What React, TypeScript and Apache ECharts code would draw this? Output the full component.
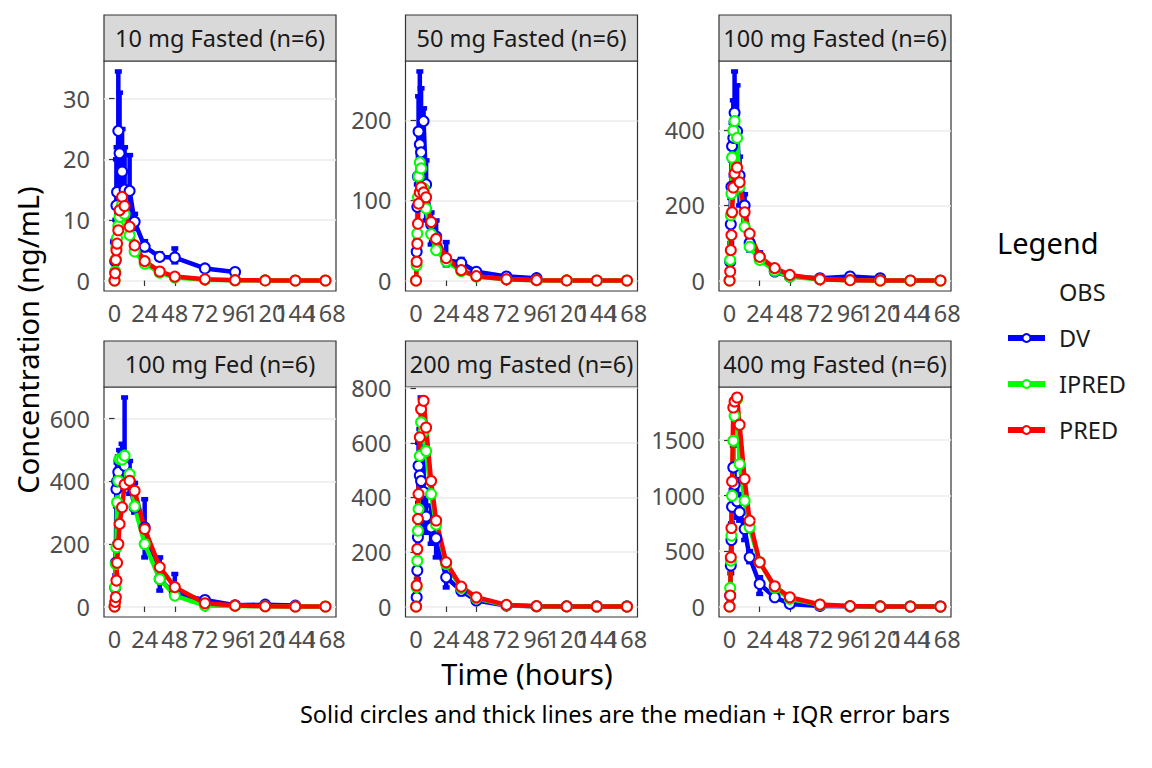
import React, { useEffect, useRef } from 'react'
import * as echarts from 'echarts'

// nominal sampling times (hours)
const TIMES = [0, 0.5, 1, 1.5, 2, 3, 4, 6, 8, 12, 16, 24, 36, 48, 72, 96, 120, 144, 168]
const X_TICKS = [0, 24, 48, 72, 96, 120, 144, 168]

const PANEL_TITLES = [
  '10 mg Fasted (n=6)',
  '50 mg Fasted (n=6)',
  '100 mg Fasted (n=6)',
  '100 mg Fed (n=6)',
  '200 mg Fasted (n=6)',
  '400 mg Fasted (n=6)'
]

const Y_TICKS = [
  [0, 10, 20, 30],
  [0, 100, 200],
  [0, 200, 400],
  [0, 200, 400, 600],
  [0, 200, 400, 600, 800],
  [0, 500, 1000, 1500]
]

// observed concentration: median, 25th and 75th percentiles (null = BLQ / not sampled)
const DV_MEDIAN = [
  [null, 3.2, 6.4, 12.4, 14.6, 24.7, 21, 18, 15, 14.8, 9.7, 5.6, 3.9, 3.8, 2.0, 1.4, null, null, null],
  [null, 36, 92, 130, 186, 170, 160, 199, 120, 70, 55, 26, 22, 11, 5, 3, null, null, null],
  [null, 50, 150, 250, 358, 380, 447, 398, 280, 200, 100, 63, 24, 10.6, 6, 10.6, 6, null, null],
  [null, 60, 140, 375, 400, 430, 468, 470, 450, 400, 317, 253, 88, 40, 21, 4, 6, 3, null],
  [null, 34, 132, 254, 516, 480, 460, 420, 330, 290, 250, 107, 58, 22, 4, 1, 1, 0.5, 0.5],
  [null, 100, 370, 600, 900, 1255, 1100, 950, 850, 700, 444, 204, 84, 24, 6, 2, 1, 0.5, 0.3]
]
const DV_Q1 = [
  [null, 2, 4, 8, 10, 14, 14, 12, 11, 10, 8.5, 5, 3.5, 3, 1.8, 1.2, null, null, null],
  [null, 25, 60, 90, 130, 110, 100, 110, 75, 45, 45, 19, 18, 8, 4, 2, null, null, null],
  [null, 30, 100, 180, 280, 300, 350, 300, 200, 160, 80, 50, 20, 8, 4, 8, 4, null, null],
  [null, 40, 100, 320, 340, 380, 420, 400, 380, 360, 300, 157, 51, 30, 15, 2, 4, 2, null],
  [null, 20, 100, 200, 380, 350, 300, 280, 270, 230, 180, 70, 45, 15, 2, 0.5, 0.5, 0.2, 0.2],
  [null, 60, 300, 450, 700, 1000, 900, 800, 775, 600, 400, 114, 60, 15, 4, 1, 0.5, 0.2, 0.1]
]
const DV_Q3 = [
  [null, 5, 10, 20, 22, 34.5, 31, 25, 22, 20.7, 11, 6.5, 4.5, 5.3, 2.3, 1.6, null, null, null],
  [null, 50, 120, 170, 230, 261, 240, 215, 150, 85, 75, 48, 27, 14, 6, 4, null, null, null],
  [null, 80, 220, 320, 420, 480, 557, 520, 330, 230, 120, 75, 30, 14, 8, 13, 8, null, null],
  [null, 80, 200, 420, 460, 480, 500, 520, 668, 465, 395, 343, 157, 104, 25, 6, 8, 4, null],
  [null, 50, 170, 320, 600, 650, 766, 600, 420, 370, 300, 140, 70, 30, 6, 2, 2, 1, 1],
  [null, 160, 450, 750, 1050, 1450, 1300, 1150, 1015, 780, 500, 264, 110, 35, 8, 3, 2, 1, 0.5]
]

// individual and population predictions (median)
const IPRED = [
  [0, 1.5, 3.5, 5.5, 7, 9, 10.5, 12.5, 11, 7.5, 4.8, 2.8, 1.3, 0.5, 0.15, 0.05, 0.02, 0.01, 0],
  [0, 19, 58.7, 104, 130, 147.5, 140, 115, 90, 58, 38, 24, 12, 5, 1.5, 0.5, 0.15, 0.05, 0.02],
  [0, 55, 174, 231, 328, 400, 425, 380, 250, 143, 90, 55, 26, 10.6, 3, 1, 0.3, 0.1, 0.03],
  [0, 62, 136, 189, 333, 402, 471, 470, 482, 423, 320, 200, 88, 35, 3, 2, 1, 0.3, 0.1],
  [0, 71, 168, 278, 357, 552, 675, 640, 570, 412, 300, 156, 68, 30, 5, 1.5, 0.5, 0.2, 0.05],
  [0, 168, 414, 640, 1000, 1495, 1720, 1870, 1285, 955, 715, 400, 168, 69, 15, 3, 1, 0.3, 0.1]
]
const PRED = [
  [0, 1.2, 3.4, 5, 6.1, 8.3, 11.6, 13.8, 12.3, 8.9, 5.8, 3.2, 1.5, 0.65, 0.2, 0.06, 0.02, 0.01, 0],
  [0, 23.5, 46, 71, 96, 110, 116.5, 110, 104, 73, 52, 28, 13, 5.5, 1.6, 0.5, 0.15, 0.05, 0.02],
  [0, 24, 81, 121, 182, 248, 285, 301, 262, 182, 125, 63, 33, 15, 3.5, 1, 0.3, 0.1, 0.03],
  [0, 15, 30, 83, 140, 200, 264, 317, 390, 402, 370, 248, 126, 62, 10.6, 3, 1, 0.3, 0.1],
  [0, 77, 211, 321, 412, 620, 723, 754, 656, 460, 315, 162, 73, 34, 6, 1.5, 0.5, 0.2, 0.05],
  [0, 99, 444, 709, 1129, 1796, 1850, 1886, 1640, 1150, 775, 400, 183, 84, 18, 4, 1, 0.3, 0.1]
]

const FONT = "'Noto Sans', sans-serif"
const COLORS = { DV: '#0000FF', IPRED: '#00FF00', PRED: '#FF0000' }
const SMALL = 23.5
const LARGE = 29

// panel layout (px)
const COL_LEFT = [104, 405.5, 719]
const ROW_TOP = [61, 387]
const PANEL_W = 232
const PANEL_H = 230
const STRIP_H = 46

const toPairs = (vals: (number | null)[]) =>
  TIMES.map((t, k) => [t, vals[k]]).filter((p) => p[1] !== null)

const App: React.FC = () => {
  const chartRef = useRef<HTMLDivElement>(null)

  useEffect(() => {
    if (!chartRef.current) return
    const chart = echarts.init(chartRef.current, null, { renderer: 'svg' })

    const grids: any[] = []
    const xAxes: any[] = []
    const xAxesOdd: any[] = []
    const yAxes: any[] = []
    const series: any[] = []
    const graphics: any[] = []

    const tickLabel = {
      fontSize: SMALL, color: '#4D4D4D', fontFamily: FONT,
      showMinLabel: true, showMaxLabel: true, hideOverlap: false,
      formatter: (v: number) => String(v)
    }
    const xspan = TIMES[TIMES.length - 1] - TIMES[0]
    const xMin = TIMES[0] - 0.05 * xspan
    const xMax = TIMES[TIMES.length - 1] + 0.05 * xspan
    // x labels split over two axes (alternating) so ECharts keeps every crowded label
    const xLabelsEven = X_TICKS.filter((_, k) => k % 2 === 0)
    const xLabelsOdd = X_TICKS.filter((_, k) => k % 2 === 1)

    PANEL_TITLES.forEach((title, i) => {
      const left = COL_LEFT[i % 3]
      const top = ROW_TOP[Math.floor(i / 3)]

      grids.push({
        left, top, width: PANEL_W, height: PANEL_H,
        show: true, borderColor: '#333333', borderWidth: 1.2, backgroundColor: '#FFFFFF',
        containLabel: false, outerBoundsMode: 'none'
      })

      // ggplot style 5% expansion around the data range
      const vmax = Math.max(
        ...(DV_Q3[i].filter((v) => v !== null) as number[]),
        ...IPRED[i], ...PRED[i]
      )

      xAxes.push({
        type: 'value', gridIndex: i, position: 'bottom', min: xMin, max: xMax,
        axisLine: { show: false },
        axisTick: { show: true, customValues: X_TICKS, length: 5.5, lineStyle: { color: '#333333', width: 1.2 } },
        axisLabel: { ...tickLabel, customValues: xLabelsEven, margin: 10 },
        splitLine: { show: false }
      })
      xAxesOdd.push({
        type: 'value', gridIndex: i, position: 'bottom', offset: 0, min: xMin, max: xMax,
        axisLine: { show: false },
        axisTick: { show: false },
        axisLabel: { ...tickLabel, customValues: xLabelsOdd, margin: 10 },
        splitLine: { show: false }
      })
      yAxes.push({
        type: 'value', gridIndex: i,
        min: -0.05 * vmax, max: 1.05 * vmax,
        axisLine: { show: false },
        axisTick: { show: true, customValues: Y_TICKS[i], length: 5.5, lineStyle: { color: '#333333', width: 1.2 } },
        axisLabel: { ...tickLabel, customValues: Y_TICKS[i], margin: 14 },
        splitLine: { show: true, lineStyle: { color: '#EBEBEB', width: 1.6 } }
      })

      const errData = TIMES.map((t, k) => [t, DV_Q1[i][k], DV_Q3[i][k]]).filter((d) => d[1] !== null)
      series.push({
        type: 'custom', name: 'DV IQR', xAxisIndex: i, yAxisIndex: i, clip: true,
        data: errData,
        renderItem: (_params: any, api: any) => {
          const t = api.value(0)
          const lo = api.coord([t, api.value(1)])
          const hi = api.coord([t, api.value(2)])
          const style = { stroke: COLORS.DV, lineWidth: 4.5 }
          return {
            type: 'group',
            children: [
              { type: 'line', shape: { x1: lo[0], y1: lo[1], x2: hi[0], y2: hi[1] }, style },
              { type: 'line', shape: { x1: hi[0] - 3.5, y1: hi[1], x2: hi[0] + 3.5, y2: hi[1] }, style },
              { type: 'line', shape: { x1: lo[0] - 3.5, y1: lo[1], x2: lo[0] + 3.5, y2: lo[1] }, style }
            ]
          }
        }
      })

      const lineSeries = (name: 'DV' | 'IPRED' | 'PRED', vals: (number | null)[]) => ({
        type: 'line', name, xAxisIndex: i, yAxisIndex: i,
        data: toPairs(vals),
        symbol: 'emptyCircle', symbolSize: 10, showAllSymbol: true,
        lineStyle: { color: COLORS[name], width: 4.5 },
        itemStyle: { color: COLORS[name], borderColor: COLORS[name], borderWidth: 2.2 }
      })
      series.push(lineSeries('DV', DV_MEDIAN[i]))
      series.push(lineSeries('IPRED', IPRED[i]))
      series.push(lineSeries('PRED', PRED[i]))

      graphics.push({
        type: 'rect',
        shape: { x: left, y: top - STRIP_H, width: PANEL_W, height: STRIP_H },
        style: { fill: '#D9D9D9', stroke: '#333333', lineWidth: 1.2 }
      })
      graphics.push({
        type: 'text', x: left + PANEL_W / 2, y: top - STRIP_H / 2,
        style: { text: title, font: `${SMALL}px ${FONT}`, fill: '#1A1A1A', textAlign: 'center', textVerticalAlign: 'middle' }
      })
    })

    // placeholder entry for the legend's "OBS" header row
    series.push({
      type: 'line', name: 'OBS', xAxisIndex: 0, yAxisIndex: 0, data: [],
      symbol: 'none', lineStyle: { opacity: 0 }, itemStyle: { opacity: 0 }
    })

    graphics.push({
      type: 'text', x: 27, y: 340, rotation: Math.PI / 2,
      style: { text: 'Concentration (ng/mL)', font: `${LARGE}px ${FONT}`, fill: '#000000', textAlign: 'center', textVerticalAlign: 'middle' }
    })
    graphics.push({
      type: 'text', x: 527, y: 673,
      style: { text: 'Time (hours)', font: `${LARGE}px ${FONT}`, fill: '#000000', textAlign: 'center', textVerticalAlign: 'middle' }
    })
    graphics.push({
      type: 'text', x: 950, y: 714,
      style: { text: 'Solid circles and thick lines are the median + IQR error bars', font: `${SMALL}px ${FONT}`, fill: '#000000', textAlign: 'right', textVerticalAlign: 'middle' }
    })
    graphics.push({
      type: 'text', x: 997, y: 242,
      style: { text: 'Legend', font: `${LARGE}px ${FONT}`, fill: '#000000', textAlign: 'left', textVerticalAlign: 'middle' }
    })

    chart.setOption({
      animation: false,
      backgroundColor: '#FFFFFF',
      grid: grids,
      xAxis: [...xAxes, ...xAxesOdd],
      yAxis: yAxes,
      series,
      legend: {
        orient: 'vertical', left: 1000, top: 275,
        itemWidth: 37, itemHeight: 10, itemGap: 22,
        selectedMode: false,
        lineStyle: { width: 6 },
        textStyle: { fontSize: SMALL, color: '#1A1A1A', fontFamily: FONT, padding: [0, 0, 0, 9] },
        data: [
          { name: 'OBS', itemStyle: { opacity: 0 }, lineStyle: { opacity: 0 } },
          'DV', 'IPRED', 'PRED'
        ]
      },
      graphic: graphics
    })

    return () => {
      chart.dispose()
    }
  }, [])

  return <div ref={chartRef} style={{ position: 'fixed', left: 0, top: 0, width: 1152, height: 768 }} />
}

export default App
